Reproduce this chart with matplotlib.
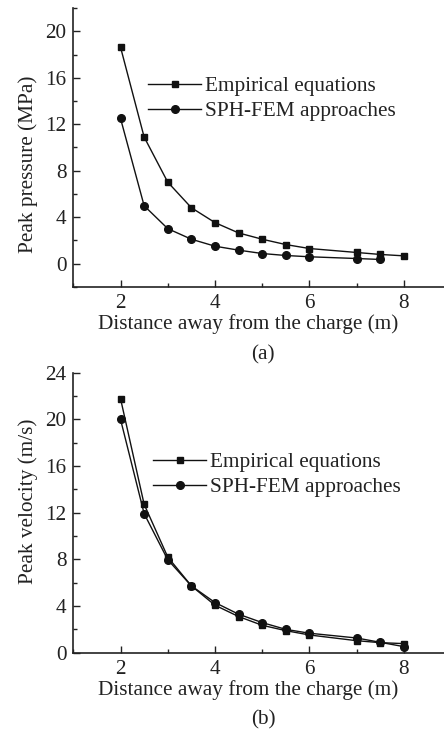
import matplotlib
matplotlib.use("Agg")
import matplotlib.pyplot as plt
from matplotlib.ticker import MultipleLocator

plt.rcParams['font.family'] = ['Liberation Serif', 'DejaVu Serif']
plt.rcParams['font.size'] = 15.3
plt.rcParams['text.color'] = '#222222'
plt.rcParams['axes.labelcolor'] = '#222222'
plt.rcParams['xtick.color'] = '#222222'
plt.rcParams['ytick.color'] = '#222222'

# Panel (a) data
dist_a_emp = [2, 2.5, 3, 3.5, 4, 4.5, 5, 5.5, 6, 7, 7.5, 8]
pressure_emp = [18.63, 10.9, 7.02, 4.82, 3.54, 2.65, 2.11, 1.65, 1.31, 0.97, 0.8, 0.68]
dist_a_sph = [2, 2.5, 3, 3.5, 4, 4.5, 5, 5.5, 6, 7, 7.5]
pressure_sph = [12.5, 4.99, 3.02, 2.11, 1.51, 1.17, 0.88, 0.71, 0.6, 0.45, 0.37]

# Panel (b) data
dist_b = [2, 2.5, 3, 3.5, 4, 4.5, 5, 5.5, 6, 7, 7.5, 8]
velocity_emp = [21.78, 12.72, 8.2, 5.73, 4.07, 3.1, 2.35, 1.89, 1.52, 1.03, 0.86, 0.78]
velocity_sph = [20.0, 11.92, 7.97, 5.73, 4.3, 3.3, 2.58, 2.0, 1.67, 1.26, 0.89, 0.52]

labels = ["Empirical equations", "SPH-FEM approaches"]
x_ticks = [2, 4, 6, 8]

W, H = 444, 738
fig = plt.figure(figsize=(W / 100, H / 100), dpi=100)

def px_axes(left, top, right, bottom):
    return fig.add_axes([left / W, 1 - bottom / H, (right - left) / W, (bottom - top) / H])

axA = px_axes(73.3, 8, 444, 287)
axB = px_axes(73.3, 372.7, 444, 652.7)

lc = '#111111'
for ax in (axA, axB):
    for s in ('top', 'right'):
        ax.spines[s].set_visible(False)
    for s in ('left', 'bottom'):
        ax.spines[s].set_linewidth(1.2)
        ax.spines[s].set_color('#222222')
    ax.tick_params(which='both', direction='in')
    ax.tick_params(which='major', length=5, width=1, pad=5)
    ax.tick_params(which='minor', length=3, width=1)
    ax.set_xlim(1, 8.85)
    ax.set_xticks(x_ticks)
    ax.xaxis.set_minor_locator(MultipleLocator(1))
    ax.set_xlabel("Distance away from the charge (m)", labelpad=1)
    ax.xaxis.label.set_x(0.471)

leg_kw = dict(frameon=False, loc='center left', handlelength=2.5, handletextpad=0.2,
              labelspacing=0.25, borderaxespad=0, borderpad=0)

axA.plot(dist_a_emp, pressure_emp, '-s', color=lc, lw=1.0, ms=5, label=labels[0])
axA.plot(dist_a_sph, pressure_sph, '-o', color=lc, lw=1.0, ms=5.5, label=labels[1])
axA.set_ylim(-2, 22)
axA.set_yticks([0, 4, 8, 12, 16, 20])
axA.yaxis.set_minor_locator(MultipleLocator(2))
axA.set_ylabel("Peak pressure (MPa)")
axA.yaxis.set_label_coords(-0.095, 0.44)
axA.legend(bbox_to_anchor=(0.2015, 0.675), **leg_kw)

axB.plot(dist_b, velocity_emp, '-s', color=lc, lw=1.0, ms=5, label=labels[0])
axB.plot(dist_b, velocity_sph, '-o', color=lc, lw=1.0, ms=5.5, label=labels[1])
axB.set_ylim(0, 24)
axB.set_yticks([0, 4, 8, 12, 16, 20, 24])
axB.yaxis.set_minor_locator(MultipleLocator(2))
axB.set_ylabel("Peak velocity (m/s)")
axB.yaxis.set_label_coords(-0.095, 0.54)
axB.legend(bbox_to_anchor=(0.215, 0.635), **leg_kw)

fig.text(263 / W, 1 - 355 / H, "(a)", ha='center', va='center', fontsize=15.3)
fig.text(263 / W, 1 - 720 / H, "(b)", ha='center', va='center', fontsize=15.3)

fig.savefig("out.png", dpi=100)
